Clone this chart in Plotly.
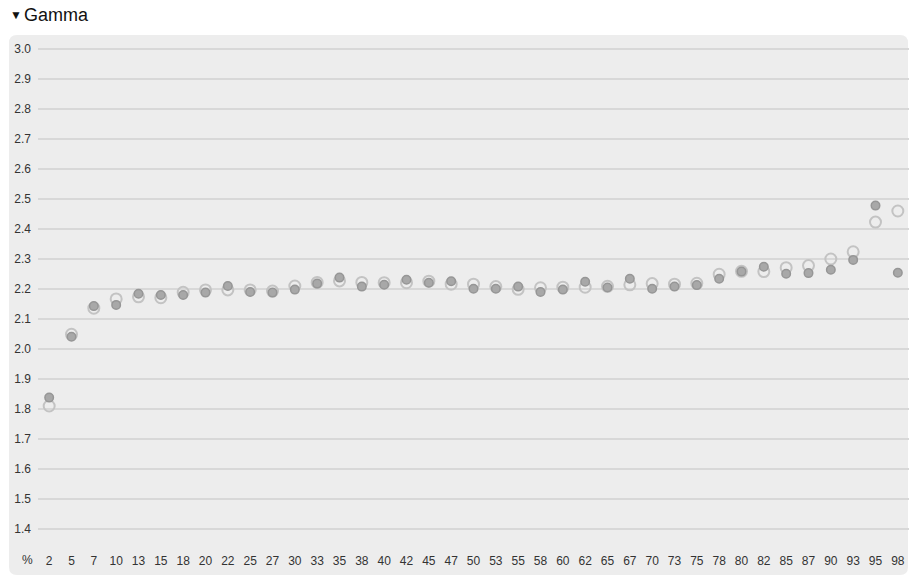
import plotly.graph_objects as go

categories = ["2", "5", "7", "10", "13", "15", "18", "20", "22", "25", "27", "30", "33",
              "35", "38", "40", "42", "45", "47", "50", "53", "55", "58", "60", "62", "65",
              "67", "70", "73", "75", "78", "80", "82", "85", "87", "90", "93", "95", "98"]

open_values = [1.81, 2.049, 2.136, 2.167, 2.174, 2.171, 2.189, 2.197, 2.197, 2.197, 2.193, 2.21, 2.222,
               2.227, 2.222, 2.221, 2.221, 2.226, 2.216, 2.216, 2.208, 2.199, 2.204, 2.206, 2.206, 2.209,
               2.214, 2.218, 2.216, 2.219, 2.249, 2.259, 2.258, 2.271, 2.278, 2.30, 2.324, 2.423, 2.46]

filled_values = [1.838, 2.041, 2.143, 2.147, 2.184, 2.18, 2.18, 2.188, 2.21, 2.19, 2.188, 2.198, 2.218,
                 2.238, 2.208, 2.214, 2.231, 2.221, 2.226, 2.201, 2.201, 2.208, 2.19, 2.198, 2.224, 2.205,
                 2.234, 2.201, 2.208, 2.213, 2.234, 2.258, 2.274, 2.251, 2.253, 2.264, 2.297, 2.478, 2.254]

y_ticks = [1.4, 1.5, 1.6, 1.7, 1.8, 1.9, 2.0, 2.1, 2.2, 2.3, 2.4, 2.5, 2.6, 2.7, 2.8, 2.9, 3.0]

# body margin is removed by post_script, so figure coords = screen coords
W, H = 917, 583
pl, pr, pt, pb = 38, 909, 35, 552   # plot area in px
L, R, T, B = pl, W - pr, pt, H - pb
pw = pr - pl
ph = pb - pt


def px_x(x):
    return (x - pl) / pw


def px_y(y):
    return (pb - y) / ph


fig = go.Figure()
fig.add_trace(go.Scatter(
    x=categories, y=open_values, mode="markers", name="open",
    marker=dict(size=11, color="rgba(0,0,0,0)", line=dict(color="#c3c3c3", width=2)),
    hoverinfo="x+y"))
fig.add_trace(go.Scatter(
    x=categories, y=filled_values, mode="markers", name="filled",
    marker=dict(size=8.5, color="#a8a8a8", line=dict(color="#969696", width=1.5)),
    hoverinfo="x+y"))

# rounded panel in paper coordinates
x0, x1 = px_x(9), px_x(908)
y0, y1 = px_y(575), px_y(35)
rx = 8 / pw
ry = 8 / ph
path = (f"M {x0+rx},{y1} L {x1-rx},{y1} Q {x1},{y1} {x1},{y1-ry} "
        f"L {x1},{y0+ry} Q {x1},{y0} {x1-rx},{y0} "
        f"L {x0+rx},{y0} Q {x0},{y0} {x0},{y0+ry} "
        f"L {x0},{y1-ry} Q {x0},{y1} {x0+rx},{y1} Z")

fig.update_layout(
    width=W, height=H,
    margin=dict(l=L, r=R, t=T, b=B, pad=0),
    paper_bgcolor="white",
    plot_bgcolor="rgba(0,0,0,0)",
    showlegend=False,
    font=dict(family="Liberation Sans, Arial, sans-serif", size=12, color="#333333"),
    shapes=[dict(type="path", path=path, xref="paper", yref="paper",
                 fillcolor="#ededed", line=dict(width=0), layer="below")],
    annotations=[
        dict(text="▼", xref="paper", yref="paper",
             x=px_x(15.5), y=px_y(15), xanchor="center", yanchor="middle",
             showarrow=False, font=dict(size=12, color="#111111")),
        dict(text="Gamma", xref="paper", yref="paper",
             x=px_x(56), y=px_y(15), xanchor="center", yanchor="middle",
             showarrow=False, font=dict(size=18, color="#111111")),
        dict(text="%", xref="paper", yref="paper",
             x=px_x(27), y=px_y(560), xanchor="center", yanchor="middle",
             showarrow=False, font=dict(size=12, color="#333333")),
    ],
    xaxis=dict(type="category", categoryorder="array", categoryarray=categories,
               range=[-0.5, len(categories) - 0.5], showgrid=False, zeroline=False,
               showline=False, ticks="", tickfont=dict(size=12, color="#333333"),
               fixedrange=True),
    yaxis=dict(range=[1.4 - 23 / 300, 3.0 + 14 / 300], tickvals=y_ticks,
               ticktext=[f"{v:.1f}" for v in y_ticks], showgrid=True,
               gridcolor="#d8d8d8", gridwidth=2, zeroline=False, showline=False,
               ticks="", ticklabelstandoff=6, tickfont=dict(size=12, color="#333333"),
               fixedrange=True),
)

fig.write_html("out.html", config={"displayModeBar": False},
               post_script="document.body.style.margin='0px';document.body.style.overflow='hidden';")
